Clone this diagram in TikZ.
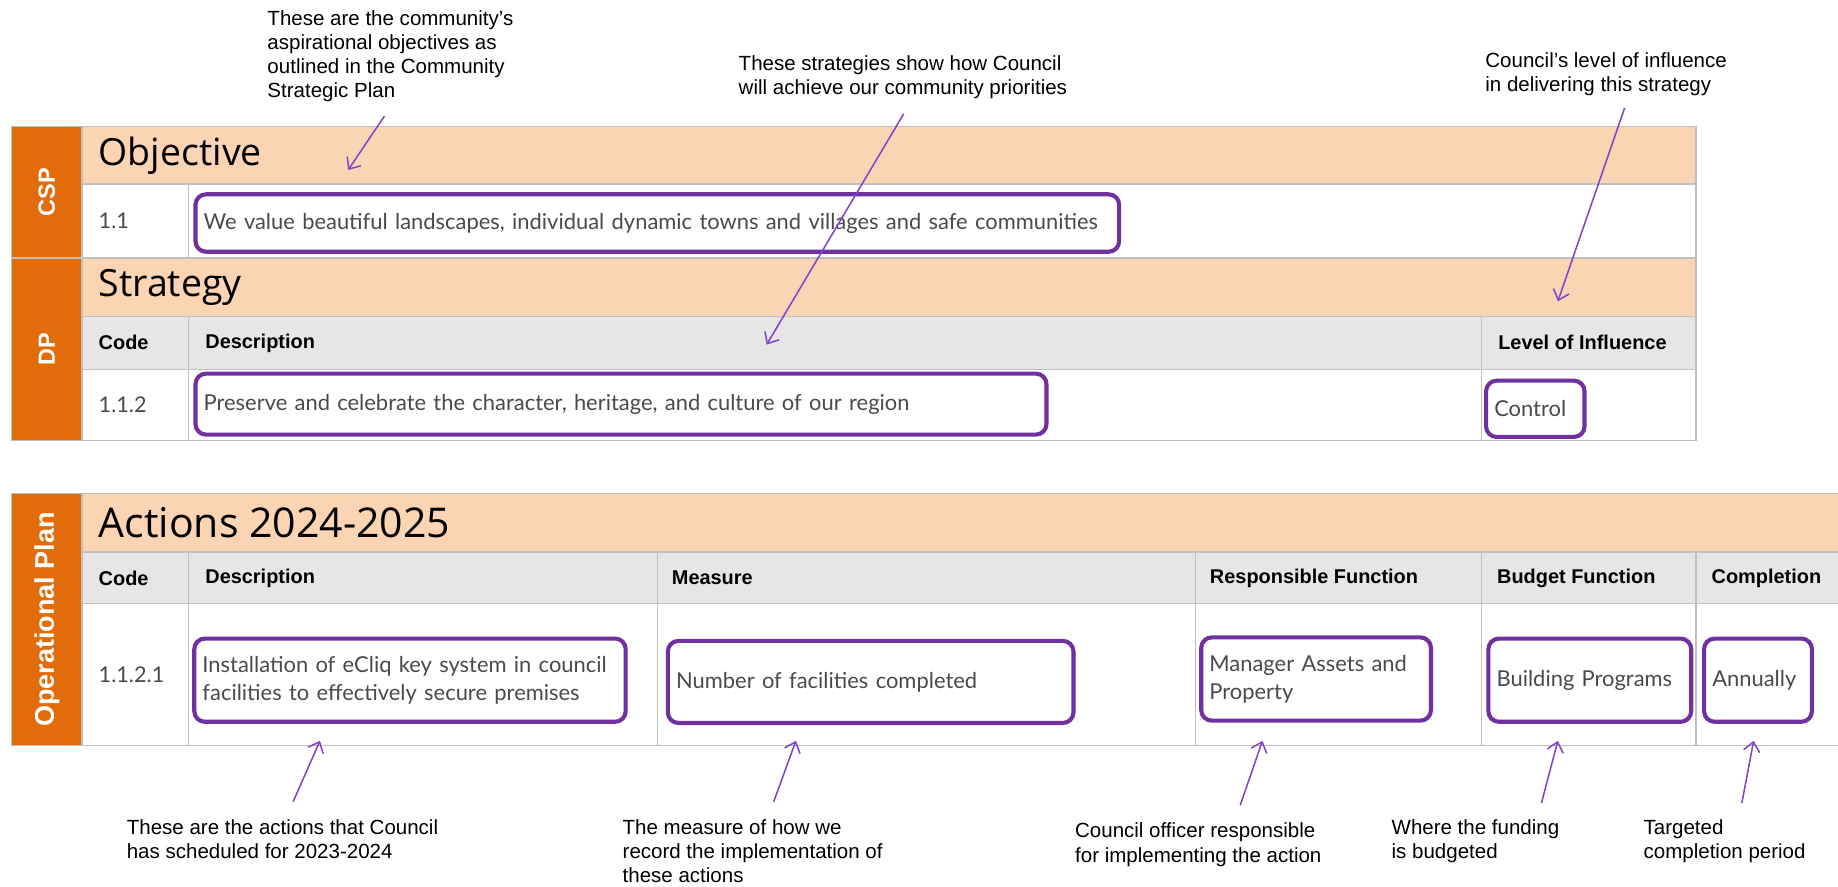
\documentclass[tikz,border=0pt]{standalone}
\usepackage{fontspec}
\setmainfont{Liberation Sans}
\newfontfamily\headfont{Open Sans}
\newfontfamily\cellfont{Lato}
\usetikzlibrary{arrows.meta, positioning}

\definecolor{barorange}{HTML}{E36C0A}
\definecolor{peach}{HTML}{FBD4B4}
\definecolor{headgray}{HTML}{E6E6E6}
\definecolor{gridgray}{HTML}{BFBFBF}
\definecolor{boxpurple}{HTML}{7030A0}
\definecolor{notepurple}{HTML}{8045C4}
\definecolor{celltext}{HTML}{4A4A4A}

\begin{document}
\begin{tikzpicture}[
    x=1pt, y=-1pt,
    cell/.style 2 args={rectangle, draw=gridgray, line width=1.2pt, anchor=north west, inner sep=0pt, outer sep=0pt, minimum width=#1, minimum height=#2},
    sidebar/.style 2 args={cell={#1}{#2}, fill=barorange},
    titlerow/.style 2 args={cell={#1}{#2}, fill=peach},
    colrow/.style 2 args={cell={#1}{#2}, fill=headgray},
    datarow/.style 2 args={cell={#1}{#2}, fill=white},
    sidetext/.style={rotate=90, inner sep=0pt, text=white, font=\bfseries\fontsize{20}{23}\selectfont},
    titletext/.style={inner sep=0pt, font=\headfont\fontsize{32}{38}\selectfont},
    colhead/.style={inner sep=0pt, font=\bfseries\fontsize{17}{20}\selectfont},
    codetext/.style={inner sep=0pt, text=celltext, font=\cellfont\fontsize{18.5}{22}\selectfont},
    pickbox/.style 2 args={rectangle, draw=boxpurple, line width=3.5pt, rounded corners=9pt, fill=white, anchor=north west, inner xsep=7pt, inner ysep=0pt, minimum width=#1, minimum height=#2, text width=#1-14pt, align=left, text=celltext, font=\cellfont\fontsize{18.7}{24}\selectfont},
    note/.style={anchor=north west, inner sep=0pt, align=left, font=\fontsize{17.5}{20.5}\selectfont},
    arr/.style={draw=notepurple, line width=1.3pt, -{Straight Barb[length=8pt, width=14pt]}}
]

% page
\path[use as bounding box, fill=white] (0,0) rectangle (1568,756);

% CSP and DP table
\node[sidebar={60}{112}] (csp) at (10,108) {};
\node[sidebar={60}{156}] (dp) at (10,220) {};
\node[sidetext] (csplabel) at (csp.center) {CSP};
\node[sidetext] (dplabel) at (dp.center) {DP};

\node[titlerow={1377}{49}] (hobj) at (70,108) {};
\node[datarow={91}{63}] (c11) at (70,157) {};
\node[datarow={1286}{63}] (d11) at (161,157) {};
\node[titlerow={1377}{50}] (hstrat) at (70,220) {};
\node[colrow={91}{45}] (scode) at (70,270) {};
\node[colrow={1103}{45}] (sdesc) at (161,270) {};
\node[colrow={183}{45}] (sloi) at (1264,270) {};
\node[datarow={91}{61}] (c112) at (70,315) {};
\node[datarow={1103}{61}] (d112) at (161,315) {};
\node[datarow={183}{61}] (l112) at (1264,315) {};

\node[titletext, right=14pt of hobj.west] (tobj) {Objective};
\node[titletext, right=14pt of hstrat.west] (tstrat) {Strategy};
\node[colhead, right=14pt of scode.west] (kscode) {Code};
\node[colhead, right=14pt of sdesc.west] (ksdesc) {Description};
\node[colhead, right=14pt of sloi.west] (ksloi) {Level of Influence};
\node[codetext, right=14pt of c11.west] (n11) {1.1};
\node[codetext, right=14pt of c112.west] (n112) {1.1.2};

\node[pickbox={788}{49}] (pobj) at (165,164) {We value beautiful landscapes, individual dynamic towns and villages and safe communities};
\node[pickbox={726}{52}] (pstrat) at (165,317) {Preserve and celebrate the character, heritage, and culture of our region};
\node[pickbox={84}{48}] (pctl) at (1266,323) {Control};

% Operational Plan table
\node[sidebar={60}{215}] (opplan) at (10,421) {};
\node[sidetext, font=\bfseries\fontsize{23}{26}\selectfont] (oplabel) at (opplan.center) {Operational Plan};

\node[titlerow={1502}{50}] (hact) at (70,421) {};
\node[colrow={91}{44}] (acode) at (70,471) {};
\node[colrow={400}{44}] (adesc) at (161,471) {};
\node[colrow={459}{44}] (ameas) at (561,471) {};
\node[colrow={244}{44}] (aresp) at (1020,471) {};
\node[colrow={183}{44}] (abudg) at (1264,471) {};
\node[colrow={125}{44}] (acomp) at (1447,471) {};
\node[datarow={91}{121}] (c1121) at (70,515) {};
\node[datarow={400}{121}] (dact) at (161,515) {};
\node[datarow={459}{121}] (dmeas) at (561,515) {};
\node[datarow={244}{121}] (dresp) at (1020,515) {};
\node[datarow={183}{121}] (dbudg) at (1264,515) {};
\node[datarow={125}{121}] (dcomp) at (1447,515) {};

\node[titletext, right=14pt of hact.west, font=\headfont\fontsize{35}{40}\selectfont] (tact) {Actions 2024-2025};
\node[colhead, right=14pt of acode.west] (kacode) {Code};
\node[colhead, right=14pt of adesc.west] (kadesc) {Description};
\node[colhead, right=12pt of ameas.west] (kameas) {Measure};
\node[colhead, right=12pt of aresp.west] (karesp) {Responsible Function};
\node[colhead, right=13pt of abudg.west] (kabudg) {Budget Function};
\node[colhead, right=13pt of acomp.west] (kacomp) {Completion};
\node[codetext, right=14pt of c1121.west] (n1121) {1.1.2.1};

\node[pickbox={368}{71}] (pact) at (164,543) {Installation of eCliq key system in council\\facilities to effectively secure premises};
\node[pickbox={346}{70}] (pmeas) at (568,545) {Number of facilities completed};
\node[pickbox={196}{71}] (presp) at (1023,542) {Manager Assets and\\Property};
\node[pickbox={173}{71}] (pbudg) at (1268,543) {Building Programs};
\node[pickbox={92}{71}] (pcomp) at (1452,543) {Annually};

% notes
\node[note] (nobj) at (228,9) {These are the community’s\\aspirational objectives as\\outlined in the Community\\Strategic Plan};
\node[note] (nstrat) at (630,47) {These strategies show how Council\\will achieve our community priorities};
\node[note] (nloi) at (1267,45) {Council’s level of influence\\in delivering this strategy};
\node[note] (nact) at (108,699) {These are the actions that Council\\has scheduled for 2023-2024};
\node[note] (nmeas) at (531,699) {The measure of how we\\record the implementation of\\these actions};
\node[note] (nresp) at (917,702) {Council officer responsible\\for implementing the action};
\node[note] (nbudg) at (1187,699) {Where the funding\\is budgeted};
\node[note] (ncomp) at (1402,699) {Targeted\\completion period};

% arrow ends
\coordinate (objtail) at (328,99);
\coordinate (objtip) at (297,145);
\coordinate (strattail) at (771,97);
\coordinate (strattip) at (654,294);
\coordinate (loitail) at (1386,92);
\coordinate (loitip) at (1329,257);
\coordinate (acttail) at (250,684);
\coordinate (acttip) at (273,632);
\coordinate (meastail) at (660,684);
\coordinate (meastip) at (679,632);
\coordinate (resptail) at (1058,687);
\coordinate (resptip) at (1077,632);
\coordinate (budgtail) at (1315,685);
\coordinate (budgtip) at (1329,632);
\coordinate (comptail) at (1486,685);
\coordinate (comptip) at (1496,632);

% arrows
\draw[arr] (objtail) -- (objtip);
\draw[arr] (strattail) -- (strattip);
\draw[arr] (loitail) -- (loitip);
\draw[arr] (acttail) -- (acttip);
\draw[arr] (meastail) -- (meastip);
\draw[arr] (resptail) -- (resptip);
\draw[arr] (budgtail) -- (budgtip);
\draw[arr] (comptail) -- (comptip);

\end{tikzpicture}
\end{document}
